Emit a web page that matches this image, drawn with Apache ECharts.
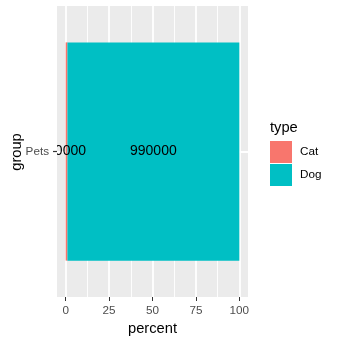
<!DOCTYPE html>
<html>
<head>
<meta charset="utf-8">
<script src="https://cdn.jsdelivr.net/npm/echarts@6/dist/echarts.min.js"></script>
<style>html,body{margin:0;padding:0;background:#fff}#c{width:338px;height:343px}</style>
</head>
<body>
<div id="c"></div>
<script>
const categories = ['Pets'];
const types = ['Cat', 'Dog'];
const counts = [10000, 990000];
const percents = [1, 99];
const xTicks = [0, 25, 50, 75, 100];
const xMinorTicks = [12.5, 37.5, 62.5, 87.5];
const colors = ['#F8766D', '#00BFC4'];

const FONT = 'Liberation Sans, Arial, sans-serif';
const chart = echarts.init(document.getElementById('c'), null, {renderer: 'canvas'});

const gridLines = [];
xTicks.forEach(v => gridLines.push({xAxis: v, lineStyle: {color: '#fff', width: 1.8, type: 'solid'}}));
xMinorTicks.forEach(v => gridLines.push({xAxis: v, lineStyle: {color: '#fff', width: 0.9, type: 'solid'}}));
categories.forEach(c => gridLines.push({yAxis: c, lineStyle: {color: '#fff', width: 1.8, type: 'solid'}}));

const series = [{
  type: 'line',
  data: [],
  z: 1,
  silent: true,
  markLine: {
    silent: true,
    z: 1,
    symbol: ['none', 'none'],
    label: {show: false},
    animation: false,
    data: gridLines
  }
}];
types.forEach((t, i) => {
  series.push({
    type: 'bar',
    name: t,
    stack: 'total',
    z: 2,
    barCategoryGap: '25%',
    data: categories.map(() => percents[i]),
    itemStyle: {color: colors[i]},
    label: {
      show: true,
      position: 'inside',
      formatter: String(counts[i]),
      color: '#000',
      fontSize: 14,
      fontFamily: FONT
    }
  });
});

// positions of category centres on a continuous copy of the discrete axis (ggplot expands by 0.6)
const catPositions = categories.map((c, i) => i + 1);

chart.setOption({
  animation: false,
  backgroundColor: '#fff',
  grid: {left: 57, top: 6, width: 191, height: 291, show: true, backgroundColor: '#EBEBEB', borderWidth: 0, containLabel: false, outerBoundsMode: 'none'},
  xAxis: {
    type: 'value', min: -5, max: 105,
    name: 'percent', nameLocation: 'middle', nameGap: 24, nameMoveOverlap: false,
    nameTextStyle: {color: '#000', fontSize: 14.7, fontFamily: FONT},
    axisLine: {show: false},
    splitLine: {show: false},
    axisTick: {show: true, customValues: xTicks, length: 4, lineStyle: {color: '#333', width: 1}},
    axisLabel: {customValues: xTicks, color: '#4D4D4D', fontSize: 11.7, fontFamily: FONT, margin: 8}
  },
  yAxis: [{
    type: 'category', data: categories, zlevel: 1, z: 100,
    axisLine: {show: false},
    splitLine: {show: false},
    axisTick: {show: false},
    axisLabel: {color: '#4D4D4D', fontSize: 11.7, fontFamily: FONT, margin: 8}
  }, {
    type: 'value', position: 'left', offset: 0, zlevel: 1, z: 100,
    min: 0.4, max: catPositions.length + 0.6,
    axisLine: {show: false},
    splitLine: {show: false},
    axisLabel: {show: false, customValues: catPositions},
    axisTick: {show: true, customValues: catPositions, length: 4, lineStyle: {color: '#333', width: 1.2}}
  }],
  legend: {
    data: types, orient: 'vertical', left: 270, top: 141, padding: 0,
    itemWidth: 22, itemHeight: 22, itemGap: 1, icon: 'rect',
    selectedMode: false,
    textStyle: {color: '#000', fontSize: 11.7, fontFamily: FONT, padding: [0, 0, 0, 3]}
  },
  graphic: [
    {type: 'text', left: 270, top: 120, z: 10, style: {text: 'type', fill: '#000', font: '14.7px ' + FONT}},
    {type: 'text', z: 10, x: 17, y: 152, rotation: Math.PI / 2, style: {text: 'group', fill: '#000', font: '14.7px ' + FONT, align: 'center', verticalAlign: 'middle'}},
    {type: 'rect', z: 50, shape: {x: 40, y: 143, width: 17, height: 20}, style: {fill: '#fff'}}
  ],
  series: series
});
</script>
</body>
</html>
